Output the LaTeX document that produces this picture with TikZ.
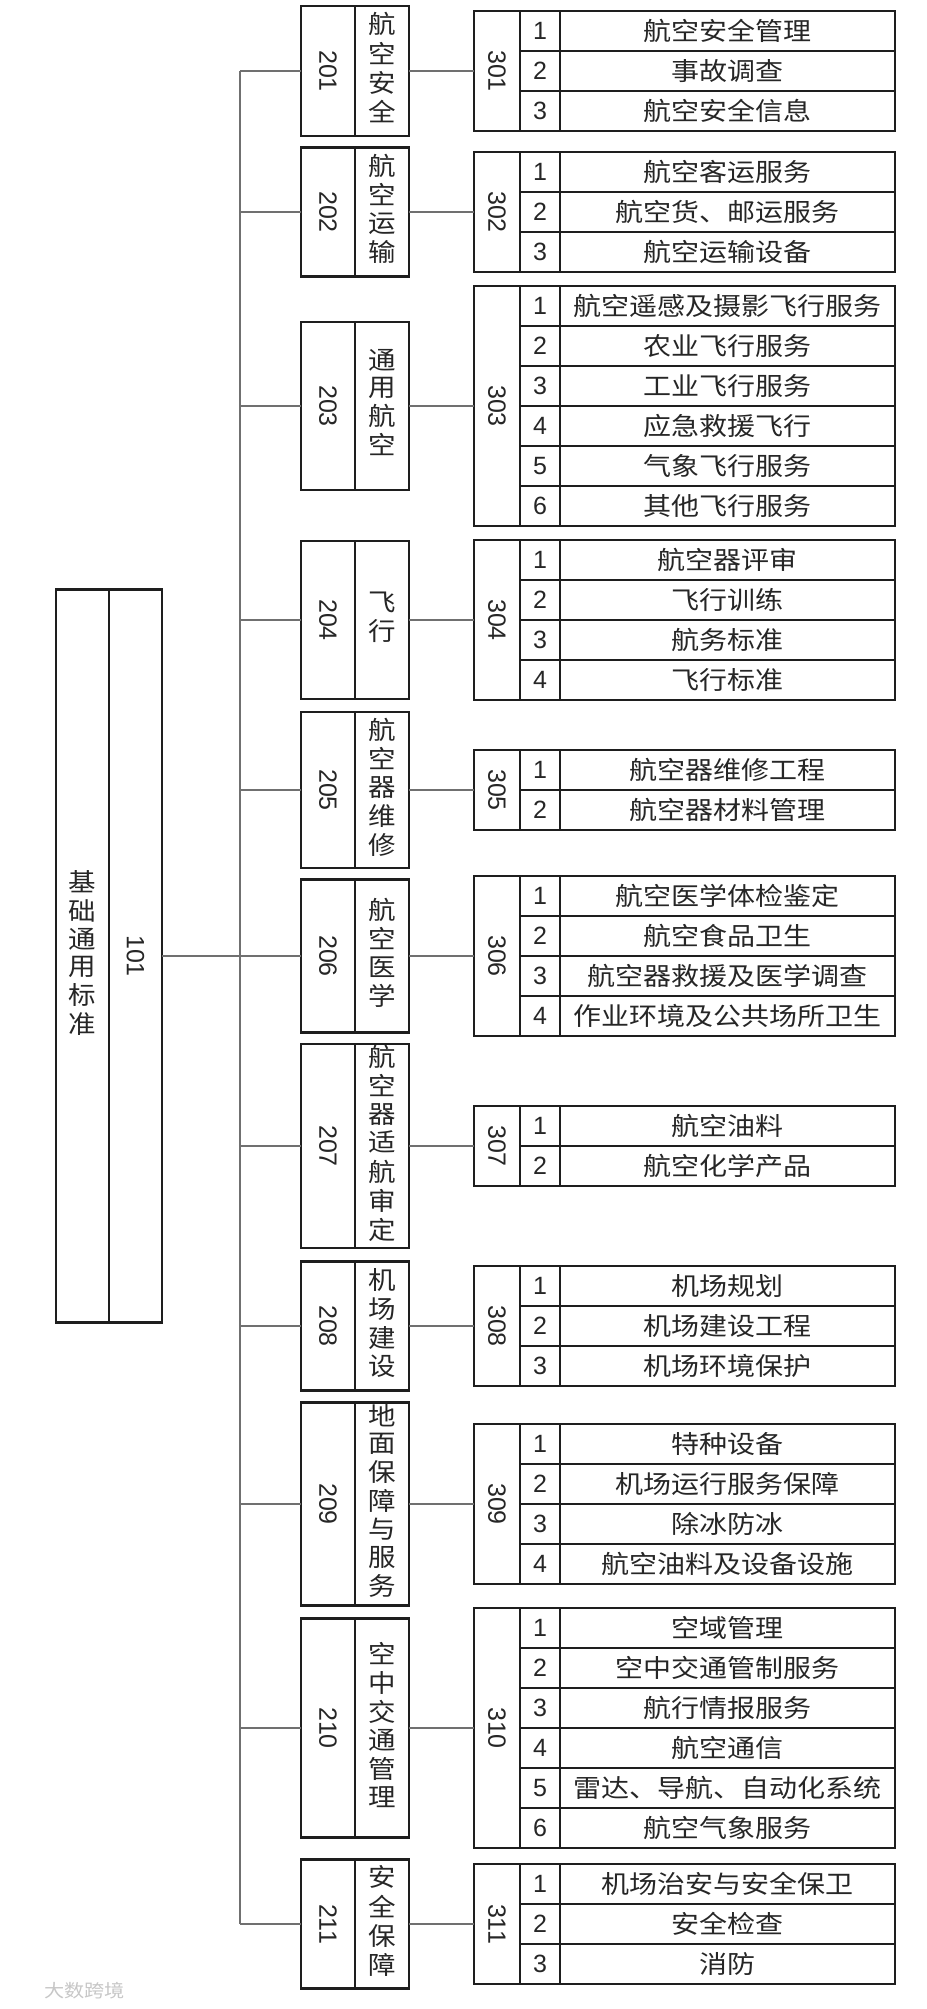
\documentclass[tikz,border=0pt]{standalone}
\usepackage{fontspec}
\usepackage{graphicx}
\setmainfont{Liberation Sans}
\newfontfamily\cjk{Noto Sans CJK SC}
\definecolor{boxc}{HTML}{1E1E1E}
\definecolor{connc}{HTML}{707070}
\definecolor{txtc}{HTML}{262626}
\newcommand\hs[1]{\scalebox{1.12}[1]{#1}}
\newcommand\vstk[1]{\scalebox{1.1}[1]{\begin{tabular}{@{}c@{}}#1\end{tabular}}}
\tikzset{
  box/.style={draw=boxc, line width=2.2pt, inner sep=0pt, outer sep=0pt, text=txtc},
  onenum/.style={box, minimum width=53pt, font=\fontsize{25}{25}\selectfont},
  onename/.style={box, minimum width=53pt, font=\cjk\fontsize{25}{27}\selectfont},
  ltnum/.style={box, minimum width=54pt, font=\fontsize{25}{25}\selectfont},
  ltname/.style={box, minimum width=54pt, font=\cjk\fontsize{25}{26.5}\selectfont},
  lhnum/.style={box, minimum width=46pt, font=\fontsize{25}{25}\selectfont},
  idx/.style={box, minimum width=40pt, minimum height=40pt, font=\fontsize{25}{25}\selectfont},
  item/.style={box, minimum width=335pt, minimum height=40pt, font=\cjk\fontsize{25}{25}\selectfont},
  conn/.style={draw=connc, line width=1.3pt},
  wmark/.style={text=black!22, inner sep=0pt, font=\cjk\fontsize{18}{18}\selectfont}
}
% #1 L2 id, #2 L3 id, #3 centre y, #4 L2 height, #5 rows, #6 stacked name, #7 items
\newcommand\grp[7]{%
  \node[ltnum, minimum height=#4pt] (n#1) at (328,#3) {\rotatebox{-90}{#1}};
  \node[ltname, minimum height=#4pt] (t#1) at (382,#3) {\vstk{#6}};
  \pgfmathsetmacro\hh{40*#5}
  \node[lhnum, minimum height=\hh pt] (n#2) at (497,#3) {\rotatebox{-90}{#2}};
  \foreach \txt [count=\k] in {#7} {
    \pgfmathsetmacro\yy{#3-20*#5+40*\k-20}
    \node[idx] (i#2-\k) at (540,\yy) {\k};
    \node[item] (r#2-\k) at (727.5,\yy) {\hs{\txt}};
  }
  \draw[conn] (trunk |- n#1.west) -- (n#1.west);
  \draw[conn] (t#1.east) -- (n#2.west);
}
\begin{document}
\begin{tikzpicture}[x=1pt, y=-1pt]
  \fill[white] (0,0) rectangle (926,2009);
  \useasboundingbox (0,0) rectangle (926,2009);
  \coordinate (trunk) at (240,0);

  \node[onename, minimum height=733pt] (t101) at (82.5,956) {\vstk{基\\础\\通\\用\\标\\准}};
  \node[onenum, minimum height=733pt] (n101) at (135.5,956) {\rotatebox{-90}{101}};

  \grp{201}{301}{71}{130}{3}{航\\空\\安\\全}{航空安全管理,事故调查,航空安全信息}
  \grp{202}{302}{212}{129}{3}{航\\空\\运\\输}{航空客运服务,航空货、邮运服务,航空运输设备}
  \grp{203}{303}{406}{168}{6}{通\\用\\航\\空}{航空遥感及摄影飞行服务,农业飞行服务,工业飞行服务,应急救援飞行,气象飞行服务,其他飞行服务}
  \grp{204}{304}{620}{158}{4}{飞\\行}{航空器评审,飞行训练,航务标准,飞行标准}
  \grp{205}{305}{790}{156}{2}{航\\空\\器\\维\\修}{航空器维修工程,航空器材料管理}
  \grp{206}{306}{956}{153}{4}{航\\空\\医\\学}{航空医学体检鉴定,航空食品卫生,航空器救援及医学调查,作业环境及公共场所卫生}
  \grp{207}{307}{1146}{204}{2}{航\\空\\器\\适\\航\\审\\定}{航空油料,航空化学产品}
  \grp{208}{308}{1326}{129}{3}{机\\场\\建\\设}{机场规划,机场建设工程,机场环境保护}
  \grp{209}{309}{1504}{203}{4}{地\\面\\保\\障\\与\\服\\务}{特种设备,机场运行服务保障,除冰防冰,航空油料及设备设施}
  \grp{210}{310}{1728}{219}{6}{空\\中\\交\\通\\管\\理}{空域管理,空中交通管制服务,航行情报服务,航空通信,雷达、导航、自动化系统,航空气象服务}
  \grp{211}{311}{1924}{129}{3}{安\\全\\保\\障}{机场治安与安全保卫,安全检查,消防}

  \draw[conn] (trunk |- n201.west) -- (trunk |- n211.west);
  \draw[conn] (n101.east) -- (n206.west);

  \node[wmark, anchor=west] (wm) at (44,1991) {\hs{大数跨境}};
\end{tikzpicture}
\end{document}
